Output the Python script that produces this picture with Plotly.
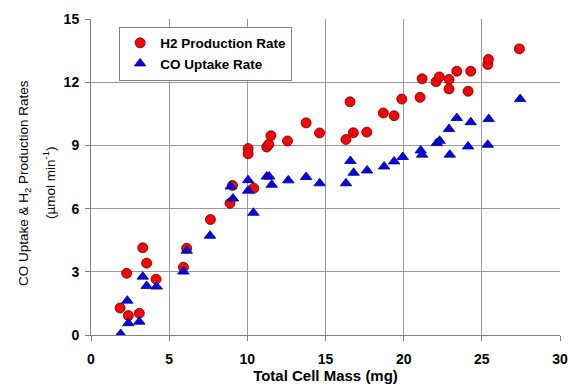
import plotly.graph_objects as go

h2_mass = [1.86, 2.28, 2.39, 3.09, 3.31, 3.56, 4.16, 5.91, 6.12, 7.64,
           8.89, 9.05, 10.05, 10.05, 10.41, 11.24, 11.37, 11.51, 12.57, 13.76,
           14.62, 16.31, 16.57, 16.78, 17.64, 18.70, 19.39, 19.88, 21.05, 21.18,
           22.07, 22.28, 22.90, 22.90, 23.40, 24.12, 24.29, 25.38, 25.42, 27.40]
h2_rate = [1.28, 2.93, 0.92, 1.03, 4.14, 3.41, 2.65, 3.22, 4.12, 5.48,
           6.25, 7.10, 8.85, 8.60, 6.97, 8.92, 9.05, 9.46, 9.21, 10.07,
           9.59, 9.28, 11.07, 9.60, 9.63, 10.54, 10.41, 11.20, 11.28, 12.16,
           12.02, 12.25, 12.13, 11.68, 12.52, 11.57, 12.52, 12.84, 13.08, 13.58]

co_mass = [1.90, 2.32, 2.39, 3.09, 3.31, 3.56, 4.20, 5.91, 6.12, 7.61,
           8.94, 9.08, 10.05, 10.05, 10.39, 11.24, 11.40, 11.56, 12.62, 13.76,
           14.63, 16.31, 16.59, 16.80, 17.66, 18.75, 19.39, 19.94, 21.09, 21.18,
           22.12, 22.30, 22.90, 22.95, 23.40, 24.12, 24.29, 25.38, 25.44, 27.45]
co_rate = [0.05, 1.63, 0.56, 0.63, 2.77, 2.33, 2.30, 3.01, 4.00, 4.71,
           7.05, 6.48, 7.35, 6.85, 5.80, 7.52, 7.52, 7.13, 7.34, 7.50,
           7.20, 7.20, 8.26, 7.70, 7.81, 8.00, 8.24, 8.45, 8.76, 8.56,
           9.11, 9.22, 9.78, 8.56, 10.30, 8.95, 10.10, 9.03, 10.25, 11.20]

x_ticks = [0, 5, 10, 15, 20, 25, 30]
y_ticks = [0, 3, 6, 9, 12, 15]

series_names = ["H2 Production Rate", "CO Uptake Rate"]
x_title = "Total Cell Mass (mg)"
y_title_1 = "CO Uptake &amp; H<sub>2</sub> Production Rates"
y_title_2 = "(\u00b5mol min<sup>-1</sup>)"

FONT = "Liberation Sans, Arial, sans-serif"

fig = go.Figure()
fig.add_trace(go.Scatter(
    x=h2_mass, y=h2_rate, mode="markers", name="<b>%s</b>" % series_names[0],
    marker=dict(symbol="circle", size=10, color="#FF0000",
                line=dict(color="#600000", width=0.8))))
fig.add_trace(go.Scatter(
    x=co_mass, y=co_rate, mode="markers", name="<b>%s</b>" % series_names[1],
    marker=dict(symbol="triangle-up", size=10, color="#0000FF",
                line=dict(color="#000060", width=0.8))))

axis_common = dict(showgrid=True, gridcolor="#9a9a9a", gridwidth=1,
                   showline=True, linecolor="#808080", linewidth=1,
                   ticks="outside", ticklen=5, tickcolor="#808080",
                   zeroline=False, automargin=False,
                   tickfont=dict(family=FONT, size=14, color="black", weight="bold"))

fig.update_layout(
    width=569, height=385,
    margin=dict(l=91, r=9, t=19, b=50),
    paper_bgcolor="white", plot_bgcolor="white",
    showlegend=True,
    legend=dict(x=0.06, y=0.976, xanchor="left", yanchor="top",
                bgcolor="white", bordercolor="#808080", borderwidth=1,
                font=dict(family=FONT, size=13.5, color="black"),
                tracegroupgap=0, itemwidth=30),
    xaxis=dict(range=[0, 30], tickvals=x_ticks, ticklabelstandoff=6,
               title=dict(text="<b>%s</b>" % x_title, standoff=0,
                          font=dict(family=FONT, size=15, color="black")),
               **axis_common),
    yaxis=dict(range=[0, 15], tickvals=y_ticks, ticklabelstandoff=3,
               **axis_common),
    annotations=[
        dict(text=y_title_1, xref="paper", yref="paper", x=0, y=0.5,
             xshift=-67, yshift=-6, xanchor="center", yanchor="middle",
             textangle=-90, showarrow=False,
             font=dict(family=FONT, size=13.5, color="black")),
        dict(text=y_title_2, xref="paper", yref="paper", x=0, y=0.5,
             xshift=-42, yshift=-6, xanchor="center", yanchor="middle",
             textangle=-90, showarrow=False,
             font=dict(family=FONT, size=13.5, color="black")),
    ],
)

fig.write_html("out.html",
               config={"displayModeBar": False},
               post_script="document.body.style.margin='0';"
                           "document.body.style.overflow='hidden';")
